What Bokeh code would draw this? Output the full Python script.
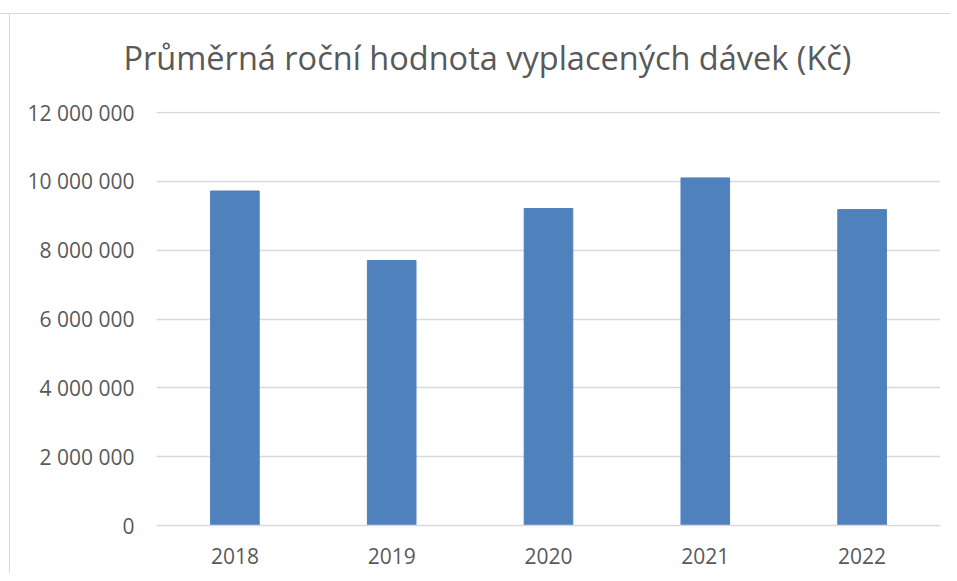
from bokeh.plotting import figure
from bokeh.models import Range1d, FactorRange, FixedTicker, Title, ColumnDataSource
from bokeh.embed import file_html
from bokeh.resources import INLINE

years = ["2018", "2019", "2020", "2021", "2022"]
values = [9720000, 7700000, 9210000, 10100000, 9180000]
y_ticks = [0, 2000000, 4000000, 6000000, 8000000, 10000000, 12000000]
y_tick_labels = ["0", "2 000 000", "4 000 000", "6 000 000", "8 000 000", "10 000 000", "12 000 000"]
title_text = "Průměrná roční hodnota vyplacených dávek (Kč)"

FONT = "Open Sans"
TXT = "#595959"
GRID = "#D9D9D9"

p = figure(width=950, height=573, output_backend="svg", toolbar_location=None,
           x_range=FactorRange(*years, range_padding=0), y_range=Range1d(0, 12030000),
           min_border_left=156, min_border_right=10, min_border_top=110, min_border_bottom=48)
p.margin = (0, 0, 0, 0)
p.border_fill_color = None
p.styles = {"background": "linear-gradient(#D9D9D9,#D9D9D9) 0 13px / 100% 1px no-repeat, "
                          "linear-gradient(#D9D9D9,#D9D9D9) 9px 13px / 1px 100% no-repeat, #FFFFFF"}

p.add_layout(Title(text=title_text, align="left", offset=-33, text_font=FONT,
                   text_font_size="32.5px", text_font_style="normal", text_color=TXT,
                   standoff=64), "above")

src = ColumnDataSource(dict(x=years, top=values))
p.vbar(x="x", top="top", width=0.31, source=src, fill_color="#4F81BD", line_color="#4F81BD")

p.outline_line_color = None
p.xgrid.grid_line_color = None
p.ygrid.grid_line_color = GRID
p.ygrid.grid_line_width = 1.5
p.yaxis.ticker = FixedTicker(ticks=y_ticks)
p.yaxis.major_label_overrides = {t: l for t, l in zip(y_ticks, y_tick_labels)}
p.yaxis.axis_line_color = None
p.yaxis.major_tick_line_color = None
p.yaxis.minor_tick_line_color = None
p.yaxis.major_label_standoff = 16
p.yaxis.major_label_text_font = FONT
p.yaxis.major_label_text_font_size = "21px"
p.yaxis.major_label_text_color = TXT

p.xaxis.axis_line_color = GRID
p.xaxis.axis_line_width = 1.5
p.xaxis.major_tick_line_color = None
p.xaxis.minor_tick_line_color = None
p.xaxis.major_label_standoff = 16
p.xaxis.major_label_text_font = FONT
p.xaxis.major_label_text_font_size = "21px"
p.xaxis.major_label_text_color = TXT

open("out.html", "w").write(file_html(p, INLINE))
